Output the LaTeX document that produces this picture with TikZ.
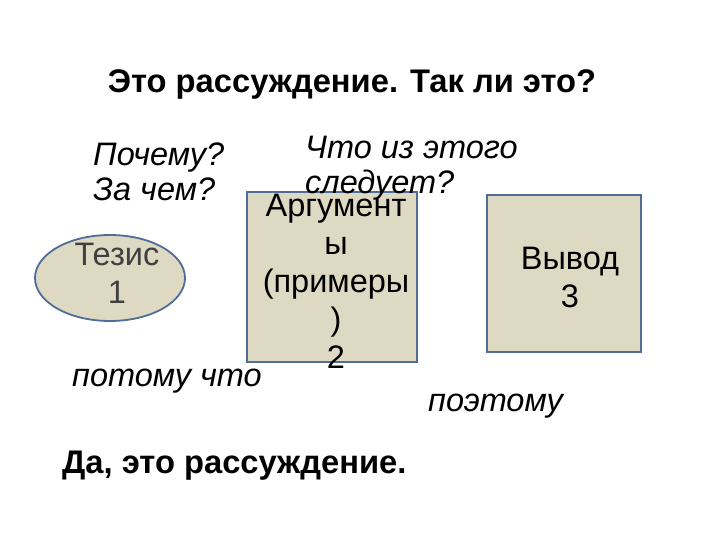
\documentclass[tikz,border=0pt]{standalone}
\usepackage{fontspec}
\setmainfont{Liberation Sans}
\usetikzlibrary{shapes.geometric}
\definecolor{tanfill}{HTML}{DDD9C3}
\definecolor{blueline}{HTML}{4F6D96}
\definecolor{tezgray}{HTML}{404040}
\tikzset{
  shapebox/.style={draw=blueline, line width=1.8pt, fill=tanfill, inner sep=0pt},
  boxtext/.style={align=center, font=\fontsize{32.5}{38}\selectfont, inner sep=0pt},
  ittext/.style={font=\fontsize{32.5}{34.5}\selectfont\itshape, inner sep=0pt, align=left},
  bfttext/.style={font=\fontsize{32.7}{36}\selectfont\bfseries, inner sep=0pt}
}
\begin{document}
\begin{tikzpicture}[x=1pt,y=-1pt]
\useasboundingbox (0,0) rectangle (720,540);
\node[bfttext] (title) at (352,84) {Это рассуждение. Так ли это?};
\node[ittext, anchor=west] (why) at (93,172) {Почему?\\За чем?};
\node[shapebox, ellipse, minimum width=150pt, minimum height=86pt] (tez) at (110,278) {};
\node[boxtext, text=tezgray] (teztext) at (117,273) {Тезис\\1};
\node[shapebox, minimum width=170pt, minimum height=170pt] (arg) at (332,277) {};
\node[boxtext] (argtext) at (336,281) {Аргумент\\ы\\(примеры\\)\\2};
\node[shapebox, minimum width=154pt, minimum height=157pt] (vyv) at (564,273.5) {};
\node[boxtext] (vyvtext) at (570,277) {Вывод\\3};
\node[ittext, anchor=west] (what) at (305,168) {Что из этого\\следует?};
\node[ittext, anchor=west] (because) at (72,381) {потому что};
\node[ittext, anchor=west] (so) at (428,406) {поэтому};
\node[bfttext, anchor=west] (yes) at (62,466) {Да, это рассуждение.};
\end{tikzpicture}
\end{document}
